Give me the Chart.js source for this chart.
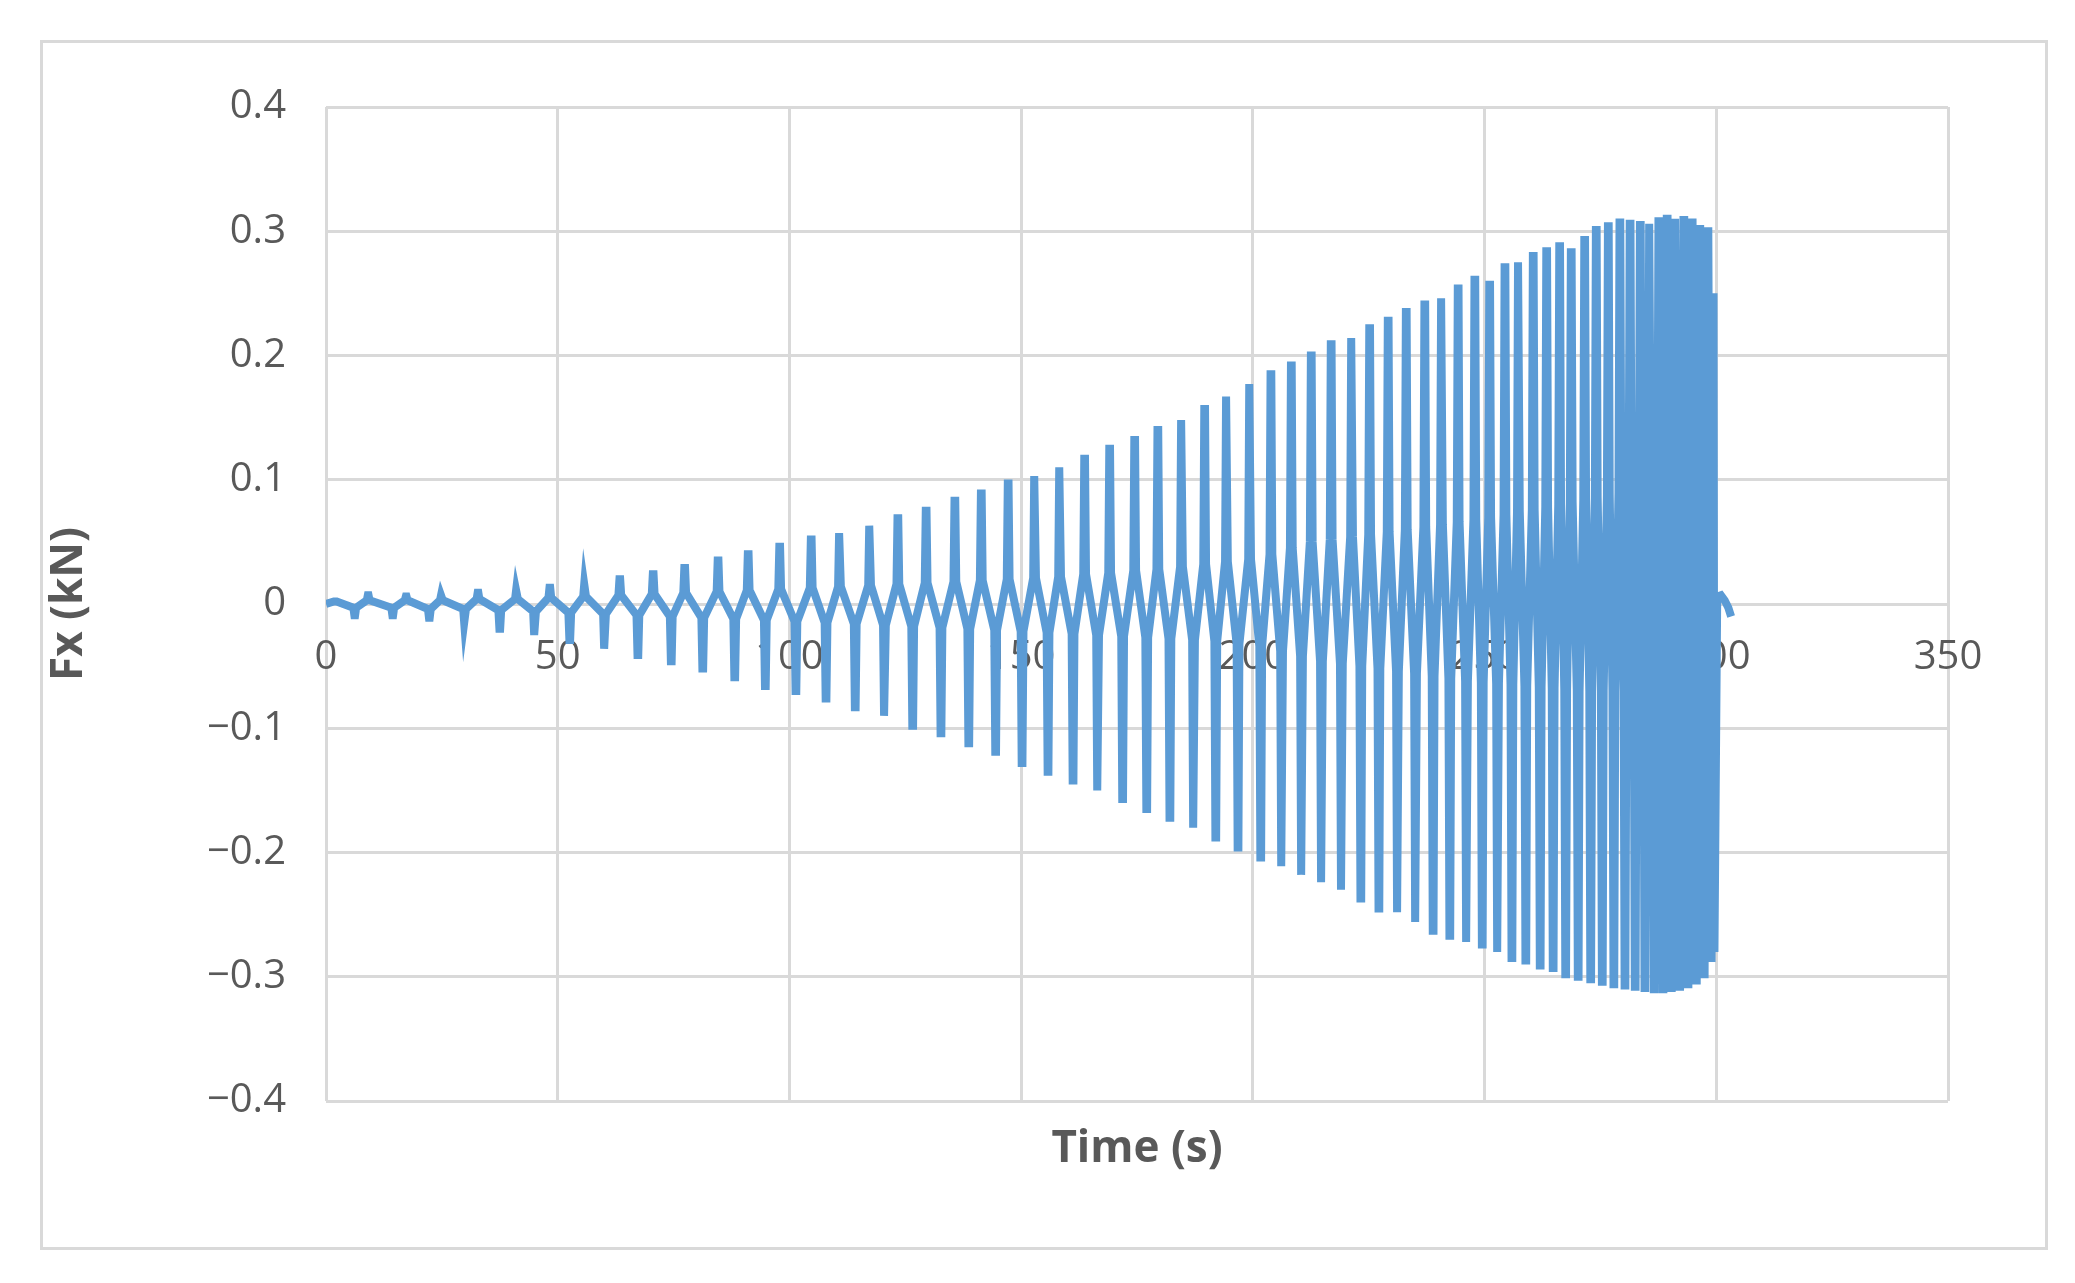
<!DOCTYPE html>
<html>
<head>
<meta charset="utf-8">
<script src="https://cdn.jsdelivr.net/npm/chart.js@4.4.0/dist/chart.umd.min.js"></script>
<style>
  body { margin: 0; background: #fff; }
  #frame { position: absolute; left: 40px; top: 40px; width: 2002px; height: 1204px; border: 3px solid #d9d9d9; }
  canvas { display: block; }
</style>
</head>
<body>
<div id="frame"><canvas id="fxChart" width="2002" height="1204"></canvas></div>
<script>
// Per-cycle readings: time and value of each positive spike and negative spike
const peakTimes = [2.0, 9.1, 17.3, 24.9, 32.8, 41.1, 48.3, 55.8, 63.4, 70.6, 77.4, 84.6, 91.1, 97.9,
  104.7, 110.8, 117.3, 123.4, 129.5, 135.7, 141.4, 147.2, 152.9, 158.3, 163.7, 169.1, 174.5, 179.5,
  184.6, 189.6, 194.3, 199.3, 203.9, 208.3, 212.6, 216.9, 221.3, 225.2, 229.2, 233.1, 237.1, 240.7,
  244.3, 247.9, 251.1, 254.4, 257.3, 260.5, 263.4, 266.2, 268.7, 271.6, 274.1, 276.7, 279.2, 281.4,
  283.6, 285.6, 287.6, 289.4, 291.2, 293.0, 294.8, 296.6, 298.2];
const peakValues = [0.002, 0.007, 0.006, 0.007, 0.009, 0.011, 0.013, 0.016, 0.020, 0.024, 0.029, 0.035, 0.040, 0.046,
  0.052, 0.057, 0.063, 0.069, 0.075, 0.083, 0.089, 0.097, 0.103, 0.110, 0.117, 0.125, 0.132, 0.140,
  0.148, 0.157, 0.167, 0.177, 0.185, 0.192, 0.200, 0.209, 0.214, 0.222, 0.228, 0.235, 0.241, 0.246,
  0.254, 0.261, 0.257, 0.271, 0.275, 0.280, 0.284, 0.288, 0.283, 0.293, 0.301, 0.304, 0.307, 0.306,
  0.305, 0.306, 0.308, 0.310, 0.310, 0.309, 0.307, 0.305, 0.300];
const troughTimes = [6.2, 14.4, 22.3, 29.9, 37.5, 45.0, 52.6, 60.1, 67.3, 74.5, 81.3, 88.2, 94.8, 101.4,
  107.9, 114.2, 120.5, 126.6, 132.7, 138.7, 144.5, 150.2, 155.8, 161.2, 166.5, 171.9, 177.1, 182.1,
  187.2, 192.0, 196.8, 201.7, 206.2, 210.5, 214.8, 219.1, 223.3, 227.2, 231.2, 235.1, 238.9, 242.5,
  246.1, 249.5, 252.8, 255.9, 258.9, 262.0, 264.8, 267.5, 270.2, 272.9, 275.4, 277.9, 280.3, 282.5,
  284.6, 286.6, 288.5, 290.3, 292.1, 293.9, 295.7, 297.4, 298.9];
const troughValues = [-0.009, -0.009, -0.011, -0.015, -0.020, -0.025, -0.029, -0.036, -0.041, -0.046, -0.052, -0.059, -0.066, -0.070,
  -0.076, -0.083, -0.090, -0.098, -0.104, -0.112, -0.119, -0.128, -0.135, -0.142, -0.150, -0.157, -0.165, -0.172,
  -0.180, -0.188, -0.196, -0.204, -0.211, -0.218, -0.224, -0.230, -0.237, -0.245, -0.248, -0.256, -0.263, -0.267,
  -0.272, -0.274, -0.280, -0.285, -0.287, -0.291, -0.293, -0.298, -0.300, -0.302, -0.304, -0.306, -0.307, -0.308,
  -0.309, -0.310, -0.310, -0.309, -0.308, -0.306, -0.303, -0.298, -0.285];
// level the signal settles at between spikes (upper and lower side of the band)
const bandHigh = [0.002, 0.003, 0.003, 0.003, 0.004, 0.004, 0.005, 0.006, 0.007, 0.008, 0.009, 0.010, 0.011, 0.012,
  0.013, 0.014, 0.015, 0.016, 0.017, 0.018, 0.019, 0.020, 0.021, 0.022, 0.024, 0.025, 0.027, 0.028,
  0.030, 0.032, 0.034, 0.036, 0.040, 0.045, 0.050, 0.052, 0.054, 0.056, 0.058, 0.060, 0.062, 0.064,
  0.066, 0.068, 0.070, 0.072, 0.074, 0.076, 0.078, 0.080, 0.082, 0.084, 0.086, 0.088, 0.090, 0.090,
  0.090, 0.090, 0.090, 0.090, 0.090, 0.090, 0.090, 0.090, 0.090];
const bandLow = [-0.003, -0.003, -0.004, -0.004, -0.005, -0.006, -0.007, -0.008, -0.009, -0.010, -0.011, -0.012, -0.013, -0.014,
  -0.015, -0.016, -0.017, -0.018, -0.019, -0.020, -0.021, -0.022, -0.023, -0.024, -0.025, -0.026, -0.027, -0.028,
  -0.029, -0.030, -0.032, -0.034, -0.038, -0.042, -0.046, -0.048, -0.050, -0.052, -0.054, -0.056, -0.058, -0.060,
  -0.062, -0.063, -0.064, -0.065, -0.066, -0.067, -0.068, -0.069, -0.070, -0.070, -0.070, -0.070, -0.070, -0.070,
  -0.070, -0.070, -0.070, -0.070, -0.070, -0.070, -0.070, -0.070, -0.070];
// the last drop and the small tail after the excitation stops
const tailTimes = [299.4, 299.5, 299.6, 299.7, 300.2, 301.0, 301.8, 302.6, 303.2];
const tailValues = [0.25, 0.25, -0.28, -0.28, 0.006, 0.007, 0.003, -0.003, -0.010];
const xTicks = [0, 50, 100, 150, 200, 250, 300, 350];

const points = [{ x: 0, y: 0 }];
for (let i = 0; i < peakTimes.length; i++) {
  points.push({ x: peakTimes[i] - 0.3, y: bandHigh[i] });
  points.push({ x: peakTimes[i] - 0.08, y: peakValues[i] });
  points.push({ x: peakTimes[i] + 0.08, y: peakValues[i] });
  points.push({ x: peakTimes[i] + 0.3, y: bandHigh[i] });
  points.push({ x: troughTimes[i] - 0.3, y: bandLow[i] });
  points.push({ x: troughTimes[i] - 0.08, y: troughValues[i] });
  points.push({ x: troughTimes[i] + 0.08, y: troughValues[i] });
  points.push({ x: troughTimes[i] + 0.3, y: bandLow[i] });
}
tailTimes.forEach((t, i) => points.push({ x: t, y: tailValues[i] }));

const textColor = '#595959';
const gridColor = '#d9d9d9';

// x axis title sits below the plot, the axis itself crosses at y = 0
const xTitlePlugin = {
  id: 'xTitle',
  afterDraw(chart) {
    const ctx = chart.ctx;
    const area = chart.chartArea;
    ctx.save();
    ctx.fillStyle = textColor;
    ctx.font = 'bold 44px "Open Sans"';
    ctx.textAlign = 'center';
    ctx.textBaseline = 'middle';
    ctx.fillText('Time (s)', (area.left + area.right) / 2, area.bottom + 48);
    ctx.restore();
  }
};

new Chart(document.getElementById('fxChart').getContext('2d'), {
  type: 'line',
  data: {
    datasets: [{
      data: points,
      borderColor: '#5b9bd5',
      borderWidth: 8,
      borderJoinStyle: 'miter',
      pointRadius: 0,
      tension: 0,
      fill: false
    }]
  },
  options: {
    responsive: false,
    animation: false,
    parsing: false,
    layout: { padding: { top: 62, right: 97, bottom: 146, left: 0 } },
    plugins: { legend: { display: false }, tooltip: { enabled: false } },
    scales: {
      x: {
        type: 'linear',
        position: { y: 0 },
        min: 0,
        max: 350,
        afterBuildTicks: scale => { scale.ticks = xTicks.map(v => ({ value: v })); },
        grid: { color: gridColor, lineWidth: 3, drawTicks: false },
        border: { display: false },
        ticks: { color: textColor, font: { size: 40, family: '"Open Sans"' }, padding: 30 }
      },
      y: {
        min: -0.4,
        max: 0.4,
        afterFit: scale => { scale.width = 283; },
        grid: { color: gridColor, lineWidth: 3, drawTicks: false },
        border: { display: false },
        ticks: {
          stepSize: 0.1,
          color: textColor,
          font: { size: 40, family: '"Open Sans"' },
          padding: 40,
          callback: v => {
            const r = Math.round(v * 10) / 10;
            return r < 0 ? '\u2212' + Math.abs(r) : String(r);
          }
        },
        title: {
          display: true,
          text: 'Fx (kN)',
          color: textColor,
          font: { size: 44, weight: 'bold', family: '"Open Sans"' },
          padding: { top: 0, bottom: 20 }
        }
      }
    }
  },
  plugins: [xTitlePlugin]
});
</script>
</body>
</html>
